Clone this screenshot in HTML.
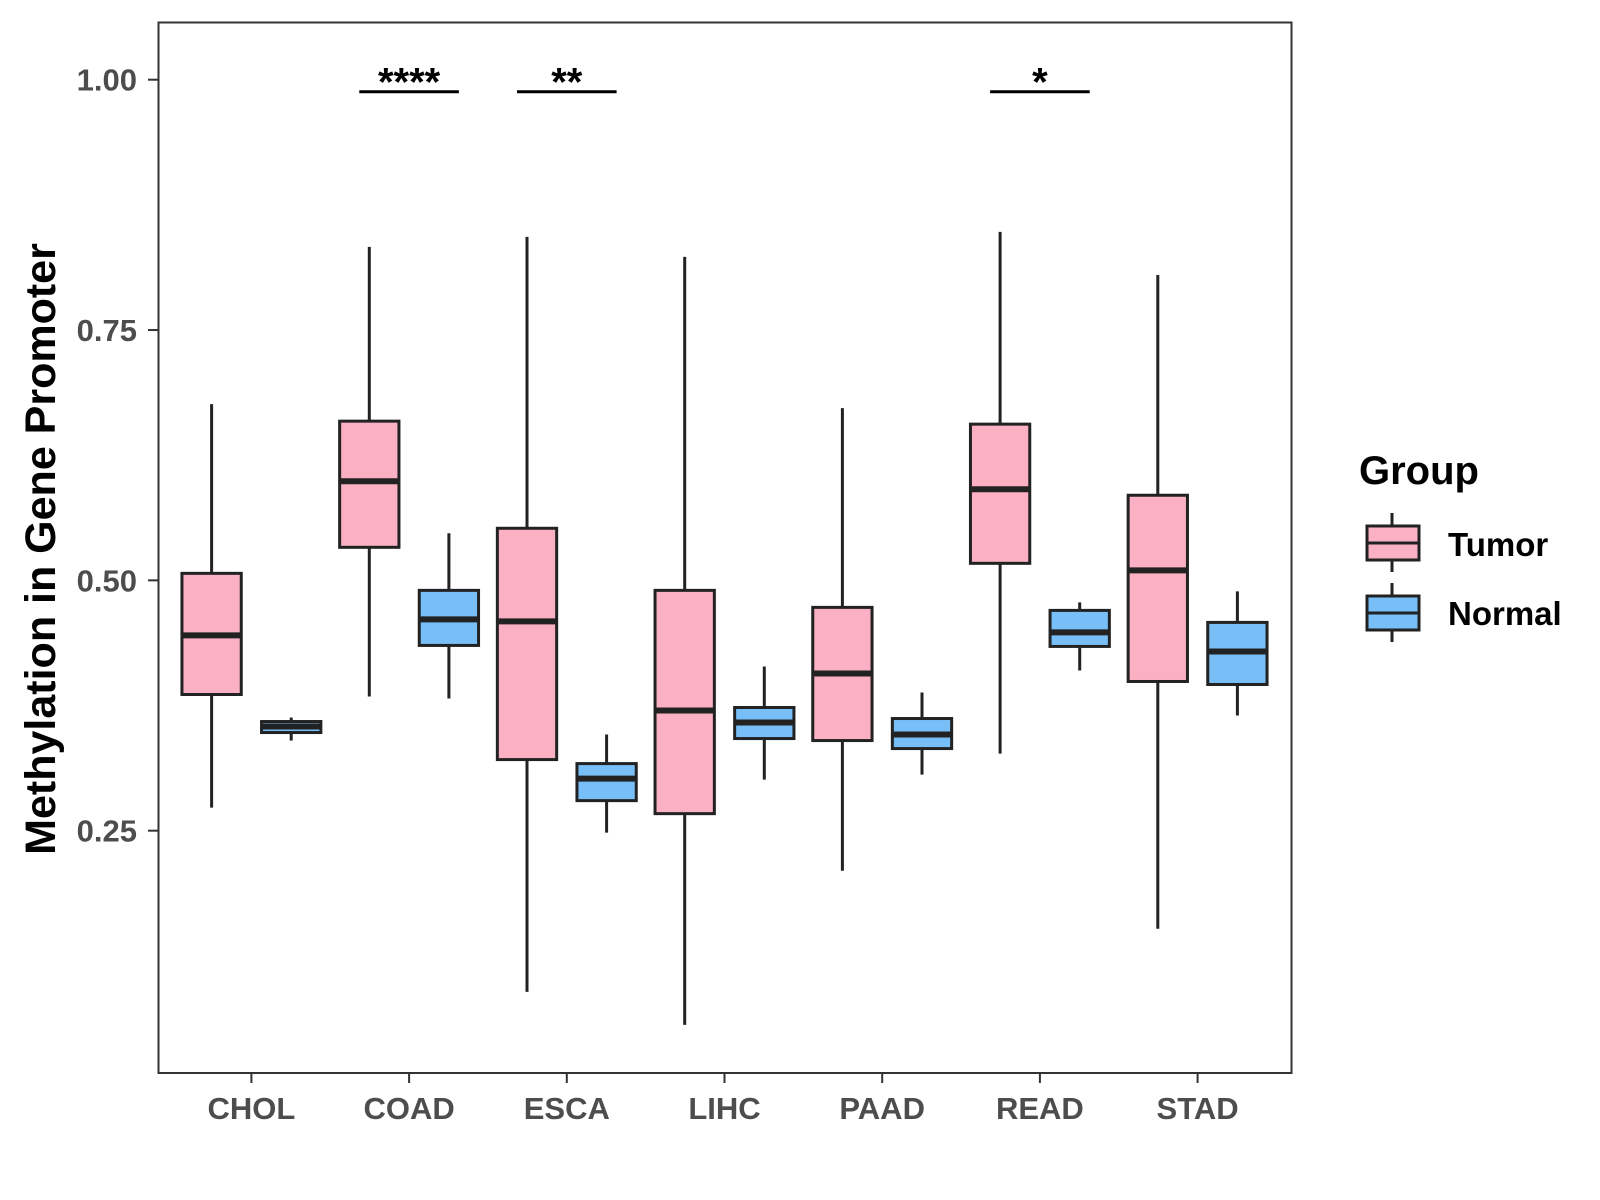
<!DOCTYPE html>
<html><head><meta charset="utf-8"><style>
html,body{margin:0;padding:0;background:#fff;}
svg{display:block;font-family:"Liberation Sans",sans-serif;}
</style></head><body>
<svg id="chart" width="1600" height="1200" viewBox="0 0 1600 1200" xmlns="http://www.w3.org/2000/svg">
<rect x="0" y="0" width="1600" height="1200" fill="#fff"/>
<rect x="158.5" y="22.5" width="1133" height="1050.5" fill="none" stroke="#333" stroke-width="2"/>
<g id="yaxis"></g>
<g id="xaxis"></g>
<g id="boxes"></g>
<g id="sig"></g>
<text transform="translate(55,549) rotate(-90)" text-anchor="middle" font-size="43" font-weight="bold" fill="#000">Methylation in Gene Promoter</text>
<g>
<text x="1359" y="484" font-size="40" font-weight="bold" fill="#000">Group</text>
<g>
<line x1="1392" y1="513" x2="1392" y2="572" stroke="#222" stroke-width="3"/>
<rect x="1367" y="526" width="52" height="34" fill="#FBB1C3" stroke="#222" stroke-width="3"/>
<line x1="1367" y1="543" x2="1419" y2="543" stroke="#222" stroke-width="3"/>
<text x="1448" y="556" font-size="33" font-weight="bold" fill="#000">Tumor</text>
</g>
<g>
<line x1="1392" y1="583" x2="1392" y2="642" stroke="#222" stroke-width="3"/>
<rect x="1367" y="596" width="52" height="34" fill="#78BFF8" stroke="#222" stroke-width="3"/>
<line x1="1367" y1="613" x2="1419" y2="613" stroke="#222" stroke-width="3"/>
<text x="1448" y="625" font-size="33" font-weight="bold" fill="#000">Normal</text>
</g>
</g>
</svg>
<script>
const categories = ["CHOL","COAD","ESCA","LIHC","PAAD","READ","STAD"];
// [lower whisker, Q1, median, Q3, upper whisker]
const tumorStats = [
 [0.273,0.386,0.445,0.507,0.676],
 [0.384,0.533,0.599,0.659,0.833],
 [0.089,0.321,0.459,0.552,0.843],
 [0.056,0.267,0.370,0.490,0.823],
 [0.210,0.340,0.407,0.473,0.672],
 [0.327,0.517,0.591,0.656,0.848],
 [0.152,0.399,0.510,0.585,0.805]
];
const normalStats = [
 [0.340,0.348,0.354,0.359,0.363],
 [0.382,0.435,0.461,0.490,0.547],
 [0.248,0.280,0.302,0.317,0.346],
 [0.301,0.342,0.358,0.373,0.414],
 [0.306,0.332,0.346,0.362,0.388],
 [0.410,0.434,0.448,0.470,0.478],
 [0.365,0.396,0.429,0.458,0.489]
];
const yTicks = [0.25,0.50,0.75,1.00];
const yTickLabels = ["0.25","0.50","0.75","1.00"];
const sigCategories = ["COAD","ESCA","READ"];
const sigLabels = ["****","**","*"];
const sigLevel = 0.988;

const NS="http://www.w3.org/2000/svg";
const y = v => 79.7 + (1 - v) * 1001.3;
const x = i => 251.4 + i * 157.7;
const DOFF = 39.8, BW = 59.3;
function mk(tag, attrs, parent){const e=document.createElementNS(NS,tag);for(const k in attrs)e.setAttribute(k,attrs[k]);parent.appendChild(e);return e;}

const ya=document.getElementById('yaxis');
yTicks.forEach((t,i)=>{
 const l=mk('line',{x1:148,x2:158.5,y1:y(t),y2:y(t),stroke:'#333','stroke-width':2},ya);
 
 
 const tx=mk('text',{x:137,y:y(t)+11,'text-anchor':'end','font-size':31,'font-weight':'bold',fill:'#4d4d4d'},ya);
 tx.textContent=yTickLabels[i];
 
 
});
const xa=document.getElementById('xaxis');
categories.forEach((c,i)=>{
 const l=mk('line',{x1:x(i),x2:x(i),y1:1073,y2:1083,stroke:'#333','stroke-width':2},xa);
 
 
 const tx=mk('text',{x:x(i),y:1119,'text-anchor':'middle','font-size':31,'font-weight':'bold',fill:'#4d4d4d'},xa);
 tx.textContent=c;
 
 
});
const bx=document.getElementById('boxes');
function drawBox(cx,s,fill,name){
 const g=mk('g',{},bx);
 
 
 mk('line',{x1:cx,x2:cx,y1:y(s[4]),y2:y(s[0]),stroke:'#222','stroke-width':3},g);
 mk('rect',{x:cx-BW/2,y:y(s[3]),width:BW,height:y(s[1])-y(s[3]),fill:fill,stroke:'#222','stroke-width':3},g);
 mk('line',{x1:cx-BW/2,x2:cx+BW/2,y1:y(s[2]),y2:y(s[2]),stroke:'#222','stroke-width':6},g);
}
categories.forEach((c,i)=>{
 drawBox(x(i)-DOFF,tumorStats[i],'#FBB1C3','box-tumor-'+c.toLowerCase());
 drawBox(x(i)+DOFF,normalStats[i],'#78BFF8','box-normal-'+c.toLowerCase());
});
const sg=document.getElementById('sig');
sigCategories.forEach((c,k)=>{
 const i=categories.indexOf(c);
 const l=mk('line',{x1:x(i)-DOFF-10,x2:x(i)+DOFF+10,y1:y(sigLevel),y2:y(sigLevel),stroke:'#000','stroke-width':3},sg);
 
 
 const t=mk('text',{x:x(i),y:y(sigLevel)+4,'text-anchor':'middle','font-size':40,'font-weight':'bold',fill:'#000'},sg);
 t.textContent=sigLabels[k];
 
 
});
</script>
</body></html>
